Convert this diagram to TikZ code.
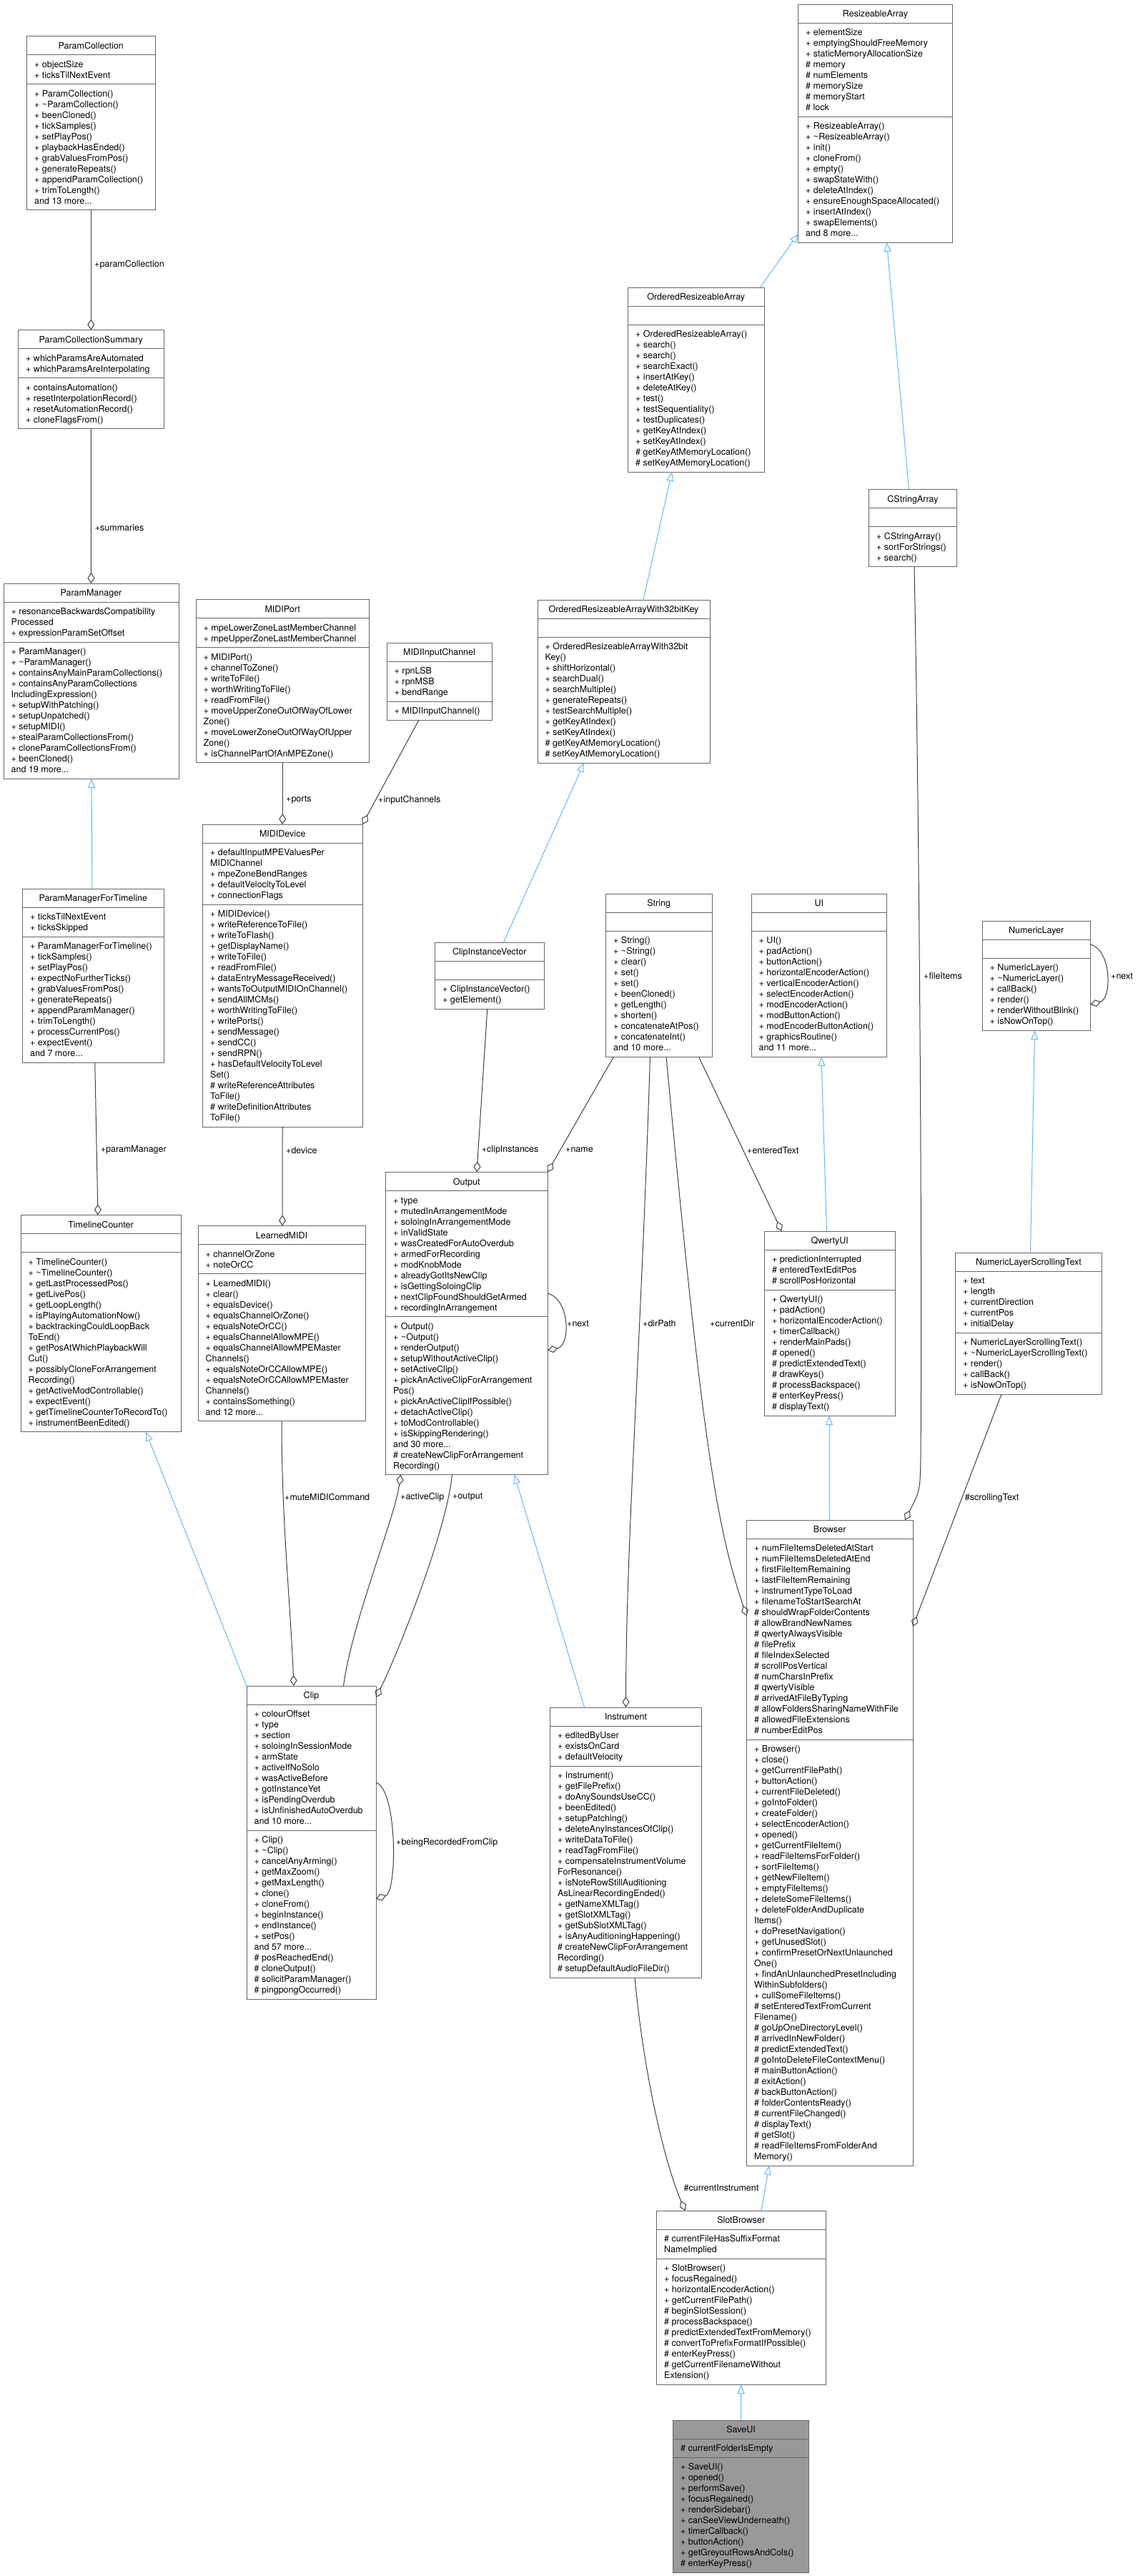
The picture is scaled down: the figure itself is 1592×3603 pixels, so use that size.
\documentclass[tikz,border=0pt]{standalone}
\usepackage{fontspec}
\setmainfont{TeX Gyre Heros}
\usetikzlibrary{arrows.meta,calc}
\definecolor{boxline}{HTML}{666666}
\definecolor{edgeline}{HTML}{404040}
\definecolor{inhline}{HTML}{63B8FF}
\definecolor{savefill}{HTML}{999999}
\tikzset{
  classbox/.style={draw=boxline, line width=1pt, inner sep=0pt, outer sep=0pt, anchor=north west},
  sepline/.style={draw=boxline, line width=1pt},
  boxtext/.style={inner sep=0pt, font=\fontsize{12.5}{15}\selectfont},
  aggr/.style={draw=edgeline, line width=1pt, -{Diamond[open, length=15pt, width=10pt]}},
  inh/.style={draw=inhline, line width=1pt, -{Triangle[open, length=13pt, width=10pt]}},
  elabel/.style={inner sep=0pt, anchor=west, font=\fontsize{12.5}{15}\selectfont},
}
\newcommand\boxfill{white}
\newcommand\tld{\textasciitilde}
\newcommand\umlbox[9]{%
  \pgfmathsetmacro\hA{max(#5,1)*15+11}%
  \pgfmathsetmacro\hM{#6*15+11}%
  \pgfmathsetmacro\hTot{26+\hA+\hM}%
  \node[classbox, fill=\boxfill, minimum width=#4pt, minimum height=\hTot pt] (#1) at (#2,#3) {};
  \draw[sepline] ($(#1.north west)+(0,26)$) -- ($(#1.north east)+(0,26)$);
  \draw[sepline] ($(#1.north west)+(0,26+\hA)$) -- ($(#1.north east)+(0,26+\hA)$);
  \node[boxtext, anchor=base] (#1-title) at ($(#1.north)+(0,17.5)$) {#7};
  \node[boxtext, anchor=base west] (#1-attr) at ($(#1.north west)+(10.5,43.5)$) {\begin{tabular}[t]{@{}l@{}}#8\end{tabular}};
  \node[boxtext, anchor=base west] (#1-meth) at ($(#1.north west)+(10.5,43.5+\hA)$) {\begin{tabular}[t]{@{}l@{}}#9\end{tabular}};
}
\begin{document}
\begin{tikzpicture}[x=1pt,y=-1pt]
\useasboundingbox (0,0) rectangle (1592,3603);
\fill[white] (0,0) rectangle (1592,3603);

% ---------- boxes ----------
\umlbox{pc}{37.5}{50.5}{179.5}{2}{11}{ParamCollection}
{+ objectSize\\+ ticksTilNextEvent}
{+ ParamCollection()\\+ \tld ParamCollection()\\+ beenCloned()\\+ tickSamples()\\+ setPlayPos()\\+ playbackHasEnded()\\+ grabValuesFromPos()\\+ generateRepeats()\\+ appendParamCollection()\\+ trimToLength()\\and 13 more...}

\umlbox{pcs}{25.5}{461.5}{203.5}{2}{4}{ParamCollectionSummary}
{+ whichParamsAreAutomated\\+ whichParamsAreInterpolating}
{+ containsAutomation()\\+ resetInterpolationRecord()\\+ resetAutomationRecord()\\+ cloneFlagsFrom()}

\umlbox{pm}{5}{816}{245}{3}{12}{ParamManager}
{+ resonanceBackwardsCompatibility\\Processed\\+ expressionParamSetOffset}
{+ ParamManager()\\+ \tld ParamManager()\\+ containsAnyMainParamCollections()\\+ containsAnyParamCollections\\IncludingExpression()\\+ setupWithPatching()\\+ setupUnpatched()\\+ setupMIDI()\\+ stealParamCollectionsFrom()\\+ cloneParamCollectionsFrom()\\+ beenCloned()\\and 19 more...}

\umlbox{mport}{274}{838.5}{242.5}{2}{10}{MIDIPort}
{+ mpeLowerZoneLastMemberChannel\\+ mpeUpperZoneLastMemberChannel}
{+ MIDIPort()\\+ channelToZone()\\+ writeToFile()\\+ worthWritingToFile()\\+ readFromFile()\\+ moveUpperZoneOutOfWayOfLower\\Zone()\\+ moveLowerZoneOutOfWayOfUpper\\Zone()\\+ isChannelPartOfAnMPEZone()}

\umlbox{mic}{541}{899}{147}{3}{1}{MIDIInputChannel}
{+ rpnLSB\\+ rpnMSB\\+ bendRange}
{+ MIDIInputChannel()}

\umlbox{ra}{1116.5}{6}{216}{8}{11}{ResizeableArray}
{+ elementSize\\+ emptyingShouldFreeMemory\\+ staticMemoryAllocationSize\\\# memory\\\# numElements\\\# memorySize\\\# memoryStart\\\# lock}
{+ ResizeableArray()\\+ \tld ResizeableArray()\\+ init()\\+ cloneFrom()\\+ empty()\\+ swapStateWith()\\+ deleteAtIndex()\\+ ensureEnoughSpaceAllocated()\\+ insertAtIndex()\\+ swapElements()\\and 8 more...}

\umlbox{ora}{878.5}{402}{190.5}{0}{13}{OrderedResizeableArray}
{}
{+ OrderedResizeableArray()\\+ search()\\+ search()\\+ searchExact()\\+ insertAtKey()\\+ deleteAtKey()\\+ test()\\+ testSequentiality()\\+ testDuplicates()\\+ getKeyAtIndex()\\+ setKeyAtIndex()\\\# getKeyAtMemoryLocation()\\\# setKeyAtMemoryLocation()}

\umlbox{csa}{1215.5}{684.5}{123}{0}{3}{CStringArray}
{}
{+ CStringArray()\\+ sortForStrings()\\+ search()}

\umlbox{ora32}{752}{839}{241}{0}{11}{OrderedResizeableArrayWith32bitKey}
{}
{+ OrderedResizeableArrayWith32bit\\Key()\\+ shiftHorizontal()\\+ searchDual()\\+ searchMultiple()\\+ generateRepeats()\\+ testSearchMultiple()\\+ getKeyAtIndex()\\+ setKeyAtIndex()\\\# getKeyAtMemoryLocation()\\\# setKeyAtMemoryLocation()}

\umlbox{mdev}{283.5}{1153}{223.5}{5}{20}{MIDIDevice}
{+ defaultInputMPEValuesPer\\MIDIChannel\\+ mpeZoneBendRanges\\+ defaultVelocityToLevel\\+ connectionFlags}
{+ MIDIDevice()\\+ writeReferenceToFile()\\+ writeToFlash()\\+ getDisplayName()\\+ writeToFile()\\+ readFromFile()\\+ dataEntryMessageReceived()\\+ wantsToOutputMIDIOnChannel()\\+ sendAllMCMs()\\+ worthWritingToFile()\\+ writePorts()\\+ sendMessage()\\+ sendCC()\\+ sendRPN()\\+ hasDefaultVelocityToLevel\\Set()\\\# writeReferenceAttributes\\ToFile()\\\# writeDefinitionAttributes\\ToFile()}

\umlbox{pmt}{31.5}{1243}{197.5}{2}{11}{ParamManagerForTimeline}
{+ ticksTilNextEvent\\+ ticksSkipped}
{+ ParamManagerForTimeline()\\+ tickSamples()\\+ setPlayPos()\\+ expectNoFurtherTicks()\\+ grabValuesFromPos()\\+ generateRepeats()\\+ appendParamManager()\\+ trimToLength()\\+ processCurrentPos()\\+ expectEvent()\\and 7 more...}

\umlbox{civ}{608.5}{1318}{152.5}{0}{2}{ClipInstanceVector}
{}
{+ ClipInstanceVector()\\+ getElement()}

\umlbox{str}{847.5}{1250}{148.5}{0}{11}{String}
{}
{+ String()\\+ \tld String()\\+ clear()\\+ set()\\+ set()\\+ beenCloned()\\+ getLength()\\+ shorten()\\+ concatenateAtPos()\\+ concatenateInt()\\and 10 more...}

\umlbox{ui}{1051}{1250}{189.5}{0}{11}{UI}
{}
{+ UI()\\+ padAction()\\+ buttonAction()\\+ horizontalEncoderAction()\\+ verticalEncoderAction()\\+ selectEncoderAction()\\+ modEncoderAction()\\+ modButtonAction()\\+ modEncoderButtonAction()\\+ graphicsRoutine()\\and 11 more...}

\umlbox{nl}{1374}{1288}{151.5}{0}{6}{NumericLayer}
{}
{+ NumericLayer()\\+ \tld NumericLayer()\\+ callBack()\\+ render()\\+ renderWithoutBlink()\\+ isNowOnTop()}

\umlbox{tc}{29}{1699.5}{224}{0}{16}{TimelineCounter}
{}
{+ TimelineCounter()\\+ \tld TimelineCounter()\\+ getLastProcessedPos()\\+ getLivePos()\\+ getLoopLength()\\+ isPlayingAutomationNow()\\+ backtrackingCouldLoopBack\\ToEnd()\\+ getPosAtWhichPlaybackWill\\Cut()\\+ possiblyCloneForArrangement\\Recording()\\+ getActiveModControllable()\\+ expectEvent()\\+ getTimelineCounterToRecordTo()\\+ instrumentBeenEdited()}

\umlbox{lm}{277}{1714.5}{234}{2}{13}{LearnedMIDI}
{+ channelOrZone\\+ noteOrCC}
{+ LearnedMIDI()\\+ clear()\\+ equalsDevice()\\+ equalsChannelOrZone()\\+ equalsNoteOrCC()\\+ equalsChannelAllowMPE()\\+ equalsChannelAllowMPEMaster\\Channels()\\+ equalsNoteOrCCAllowMPE()\\+ equalsNoteOrCCAllowMPEMaster\\Channels()\\+ containsSomething()\\and 12 more...}

\umlbox{out}{539.5}{1639.5}{226.5}{11}{14}{Output}
{+ type\\+ mutedInArrangementMode\\+ soloingInArrangementMode\\+ inValidState\\+ wasCreatedForAutoOverdub\\+ armedForRecording\\+ modKnobMode\\+ alreadyGotItsNewClip\\+ isGettingSoloingClip\\+ nextClipFoundShouldGetArmed\\+ recordingInArrangement}
{+ Output()\\+ \tld Output()\\+ renderOutput()\\+ setupWithoutActiveClip()\\+ setActiveClip()\\+ pickAnActiveClipForArrangement\\Pos()\\+ pickAnActiveClipIfPossible()\\+ detachActiveClip()\\+ toModControllable()\\+ isSkippingRendering()\\and 30 more...\\\# createNewClipForArrangement\\Recording()}

\umlbox{qui}{1069.5}{1722}{182.5}{3}{11}{QwertyUI}
{+ predictionInterrupted\\\# enteredTextEditPos\\\# scrollPosHorizontal}
{+ QwertyUI()\\+ padAction()\\+ horizontalEncoderAction()\\+ timerCallback()\\+ renderMainPads()\\\# opened()\\\# predictExtendedText()\\\# drawKeys()\\\# processBackspace()\\\# enterKeyPress()\\\# displayText()}

\umlbox{nlst}{1336.5}{1752}{205}{5}{5}{NumericLayerScrollingText}
{+ text\\+ length\\+ currentDirection\\+ currentPos\\+ initialDelay}
{+ NumericLayerScrollingText()\\+ \tld NumericLayerScrollingText()\\+ render()\\+ callBack()\\+ isNowOnTop()}

\umlbox{br}{1044.5}{2126}{232.5}{18}{39}{Browser}
{+ numFileItemsDeletedAtStart\\+ numFileItemsDeletedAtEnd\\+ firstFileItemRemaining\\+ lastFileItemRemaining\\+ instrumentTypeToLoad\\+ filenameToStartSearchAt\\\# shouldWrapFolderContents\\\# allowBrandNewNames\\\# qwertyAlwaysVisible\\\# filePrefix\\\# fileIndexSelected\\\# scrollPosVertical\\\# numCharsInPrefix\\\# qwertyVisible\\\# arrivedAtFileByTyping\\\# allowFoldersSharingNameWithFile\\\# allowedFileExtensions\\\# numberEditPos}
{+ Browser()\\+ close()\\+ getCurrentFilePath()\\+ buttonAction()\\+ currentFileDeleted()\\+ goIntoFolder()\\+ createFolder()\\+ selectEncoderAction()\\+ opened()\\+ getCurrentFileItem()\\+ readFileItemsForFolder()\\+ sortFileItems()\\+ getNewFileItem()\\+ emptyFileItems()\\+ deleteSomeFileItems()\\+ deleteFolderAndDuplicate\\Items()\\+ doPresetNavigation()\\+ getUnusedSlot()\\+ confirmPresetOrNextUnlaunched\\One()\\+ findAnUnlaunchedPresetIncluding\\WithinSubfolders()\\+ cullSomeFileItems()\\\# setEnteredTextFromCurrent\\Filename()\\\# goUpOneDirectoryLevel()\\\# arrivedInNewFolder()\\\# predictExtendedText()\\\# goIntoDeleteFileContextMenu()\\\# mainButtonAction()\\\# exitAction()\\\# backButtonAction()\\\# folderContentsReady()\\\# currentFileChanged()\\\# displayText()\\\# getSlot()\\\# readFileItemsFromFolderAnd\\Memory()}

\umlbox{clip}{345}{2358}{181}{11}{15}{Clip}
{+ colourOffset\\+ type\\+ section\\+ soloingInSessionMode\\+ armState\\+ activeIfNoSolo\\+ wasActiveBefore\\+ gotInstanceYet\\+ isPendingOverdub\\+ isUnfinishedAutoOverdub\\and 10 more...}
{+ Clip()\\+ \tld Clip()\\+ cancelAnyArming()\\+ getMaxZoom()\\+ getMaxLength()\\+ clone()\\+ cloneFrom()\\+ beginInstance()\\+ endInstance()\\+ setPos()\\and 57 more...\\\# posReachedEnd()\\\# cloneOutput()\\\# solicitParamManager()\\\# pingpongOccurred()}

\umlbox{inst}{769.5}{2388}{212}{3}{19}{Instrument}
{+ editedByUser\\+ existsOnCard\\+ defaultVelocity}
{+ Instrument()\\+ getFilePrefix()\\+ doAnySoundsUseCC()\\+ beenEdited()\\+ setupPatching()\\+ deleteAnyInstancesOfClip()\\+ writeDataToFile()\\+ readTagFromFile()\\+ compensateInstrumentVolume\\ForResonance()\\+ isNoteRowStillAuditioning\\AsLinearRecordingEnded()\\+ getNameXMLTag()\\+ getSlotXMLTag()\\+ getSubSlotXMLTag()\\+ isAnyAuditioningHappening()\\\# createNewClipForArrangement\\Recording()\\\# setupDefaultAudioFileDir()}

\umlbox{sb}{918.5}{3092}{236.5}{2}{11}{SlotBrowser}
{\# currentFileHasSuffixFormat\\NameImplied}
{+ SlotBrowser()\\+ focusRegained()\\+ horizontalEncoderAction()\\+ getCurrentFilePath()\\\# beginSlotSession()\\\# processBackspace()\\\# predictExtendedTextFromMemory()\\\# convertToPrefixFormatIfPossible()\\\# enterKeyPress()\\\# getCurrentFilenameWithout\\Extension()}

\renewcommand\boxfill{savefill}
\umlbox{save}{941.5}{3385}{190}{1}{10}{SaveUI}
{\# currentFolderIsEmpty}
{+ SaveUI()\\+ opened()\\+ performSave()\\+ focusRegained()\\+ renderSidebar()\\+ canSeeViewUnderneath()\\+ timerCallback()\\+ buttonAction()\\+ getGreyoutRowsAndCols()\\\# enterKeyPress()}

% ---------- inheritance ----------
\draw[inh] ($(ora.north west)+(185,0)$) -- ($(ra.south west)+(0,-12)$);
\draw[inh] ($(csa.north west)+(56,0)$) -- ($(ra.south west)+(124,0)$);
\draw[inh] ($(ora32.north west)+(148,0)$) -- ($(ora.south west)+(61.5,0)$);
\draw[inh] ($(civ.north west)+(96,0)$) -- ($(ora32.south west)+(65,0)$);
\draw[inh] ($(pmt.north west)+(97.5,0)$) -- ($(pm.south west)+(123,0)$);
\draw[inh] ($(qui.north west)+(87,0)$) -- ($(ui.south west)+(98,0)$);
\draw[inh] ($(nlst.north west)+(105,0)$) -- ($(nl.south west)+(73.5,0)$);
\draw[inh] (clip.north west) -- ($(tc.south west)+(175,0)$);
\draw[inh] ($(inst.north west)+(48,0)$) -- ($(out.south west)+(180,0)$);
\draw[inh] ($(br.north west)+(115.5,0)$) -- ($(qui.south west)+(90.5,0)$);
\draw[inh] ($(sb.north west)+(146.5,0)$) -- ($(br.south west)+(31.5,0)$);
\draw[inh] (save.north) -- (sb.south);

% ---------- aggregation ----------
\draw[aggr] (pc.south) -- (pcs.north);
\node[elabel] (l-pc) at (132,370.5) {+paramCollection};
\draw[aggr] (pcs.south) -- (pm.north);
\node[elabel] (l-sum) at (132.7,738.5) {+summaries};
\draw[aggr] ($(pmt.south)+(2.5,0)$) -- ($(tc.north)+(-4,0)$);
\node[elabel] (l-pmt) at (140.6,1608.6) {+paramManager};
\draw[aggr] (mport.south) -- (mdev.north);
\node[elabel] (l-ports) at (400,1119) {+ports};
\draw[aggr] ($(mic.south west)+(45,0)$) -- (mdev.north east);
\node[elabel] (l-ic) at (529,1119) {+inputChannels};
\draw[aggr] (mdev.south) -- ($(lm.north west)+(118,0)$);
\node[elabel] (l-dev) at (400,1608.6) {+device};
\draw[aggr] ($(civ.south)+(-3,0)$) -- ($(out.north west)+(127.5,0)$);
\node[elabel] (l-civ) at (673.7,1608.6) {+clipInstances};
\draw[aggr] ($(str.south west)+(11,0)$) -- (out.north east);
\node[elabel] (l-name) at (791,1608.6) {+name};
\draw[aggr] ($(out.north east)+(0,169.5)$) .. controls +(32,8) and +(32,-6) .. ($(out.north east)+(0,249)$);
\node[elabel] (l-onext) at (793,1851.4) {+next};
\draw[aggr] ($(str.south west)+(62,0)$) .. controls (896,1900) and (876,2150) .. ($(inst.north west)+(106,0)$);
\node[elabel] (l-dir) at (899,1851.4) {+dirPath};
\draw[aggr] ($(str.south west)+(84.5,0)$) .. controls (980,1990) and (1000,2130) .. ($(br.north west)+(0,134)$);
\node[elabel] (l-cdir) at (993,1851.4) {+currentDir};
\draw[aggr] ($(str.south west)+(130,0)$) -- ($(qui.north west)+(24,0)$);
\node[elabel] (l-et) at (1045,1608.6) {+enteredText};
\draw[aggr] ($(csa.south west)+(63.5,0)$) .. controls (1287,1200) and (1290,1800) .. (1288,2040) .. controls (1287,2085) .. ($(br.north west)+(221.5,0)$);
\node[elabel] (l-fi) at (1292,1365) {+fileItems};
\draw[aggr] ($(nl.north east)+(0,33)$) .. controls +(30,8) and +(30,-8) .. ($(nl.north east)+(0,117)$);
\node[elabel] (l-nnext) at (1554,1365) {+next};
\draw[aggr] ($(nlst.south west)+(64.5,0)$) -- ($(br.north east)+(0,149)$);
\node[elabel] (l-st) at (1349.6,2094.8) {\#scrollingText};
\draw[aggr] (lm.south) .. controls +(0,140) and +(-5,-120) .. ($(clip.north west)+(66,0)$);
\node[elabel] (l-mute) at (398,2094.3) {+muteMIDICommand};
\draw[aggr] ($(clip.north west)+(135.5,0)$) .. controls +(12,-90) and +(-8,60) .. ($(out.south west)+(21,0)$);
\node[elabel] (l-ac) at (560,2094) {+activeClip};
\draw[aggr] ($(out.south west)+(93,0)$) .. controls +(-8,80) and +(30,-60) .. ($(clip.north east)+(0,16)$);
\node[elabel] (l-out) at (633,2094) {+output};
\draw[aggr] ($(clip.north east)+(0,135)$) .. controls +(30,10) and +(30,-10) .. ($(clip.north east)+(0,298)$);
\node[elabel] (l-brfc) at (554,2577) {+beingRecordedFromClip};
\draw[aggr] ($(inst.south west)+(118.5,0)$) .. controls +(12,130) and +(-30,-70) .. ($(sb.north west)+(40,0)$);
\node[elabel] (l-ci) at (956.4,3060.5) {\#currentInstrument};
\end{tikzpicture}
\end{document}
